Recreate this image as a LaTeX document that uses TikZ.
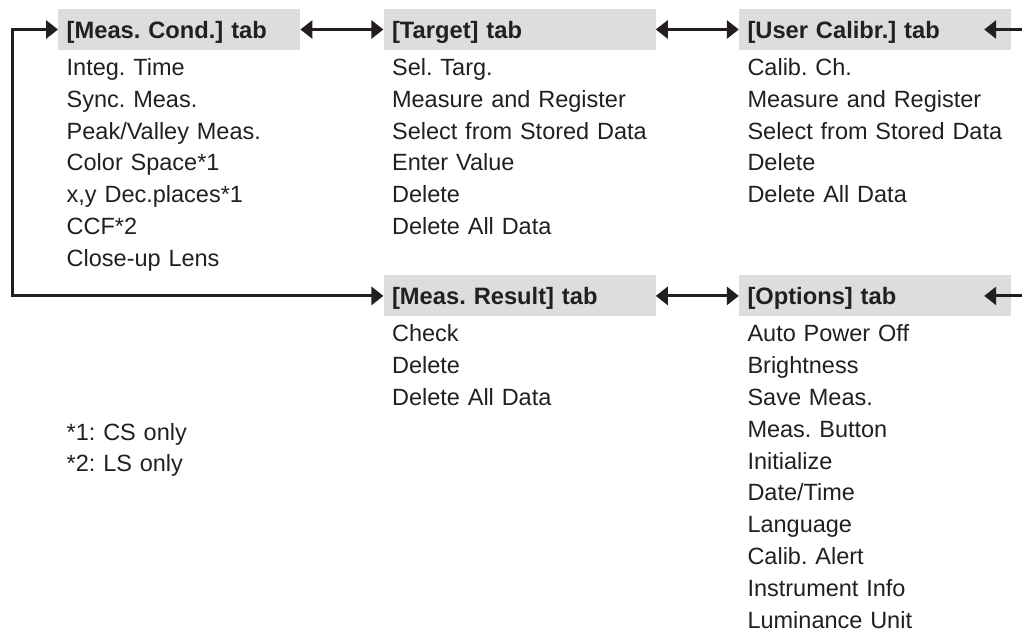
\documentclass[tikz,border=0pt]{standalone}
\usepackage{fontspec}
\setmainfont{Liberation Sans}
\usepackage{xcolor}
\usepackage{tikz}
\usetikzlibrary{positioning, arrows.meta}

\definecolor{tabgrey}{HTML}{DCDDDE}
\definecolor{inkgrey}{HTML}{231F20}
\frenchspacing

\begin{document}
\begin{tikzpicture}[x=1pt, y=-1pt, node distance=0pt]

	% Styles
	\tikzset{
		tab/.style={
			rectangle, fill=tabgrey, text=inkgrey,
			minimum height=41pt, text height=17pt, text depth=0pt,
			inner xsep=8.5pt, inner ysep=0pt, text width=#1, align=left,
			font=\fontsize{23.7}{28}\selectfont\bfseries
		},
		item/.style={
			rectangle, text=inkgrey, inner sep=0pt,
			text height=28pt, text depth=3.4pt, text width=260pt, align=left,
			font=\fontsize{23.5}{28}\selectfont
		},
		arrow/.style={draw=inkgrey, line width=3pt, -{Triangle[length=12pt, width=18pt]}},
		darrow/.style={draw=inkgrey, line width=3pt, {Triangle[length=12pt, width=18pt]}-{Triangle[length=12pt, width=18pt]}}
	}

	\useasboundingbox (0,0) rectangle (1022,630);

	% Tabs
	\node (mc) [tab=225pt, anchor=west] at (58,29.5) {[Meas. Cond.] tab};
	\node (tg) [tab=255pt, right=83pt of mc] {[Target] tab};
	\node (uc) [tab=255pt, right=83pt of tg] {[User Calibr.] tab};
	\node (mr) [tab=255pt, below=225pt of tg] {[Meas. Result] tab};
	\node (op) [tab=255pt, right=83pt of mr] {[Options] tab};

	% Meas. Cond. items
	\node (mc1) [item, below=-3pt of mc.south west, anchor=north west, xshift=8.5pt] {Integ. Time};
	\node (mc2) [item, below=of mc1] {Sync. Meas.};
	\node (mc3) [item, below=of mc2] {Peak/Valley Meas.};
	\node (mc4) [item, below=of mc3] {Color Space*1};
	\node (mc5) [item, below=of mc4] {x,y Dec.places*1};
	\node (mc6) [item, below=of mc5] {CCF*2};
	\node (mc7) [item, below=of mc6] {Close-up Lens};

	% Notes
	\node (note1) [item, below=142pt of mc7] {*1: CS only};
	\node (note2) [item, below=of note1] {*2: LS only};

	% Target items
	\node (tg1) [item, below=-3pt of tg.south west, anchor=north west, xshift=8.5pt] {Sel. Targ.};
	\node (tg2) [item, below=of tg1] {Measure and Register};
	\node (tg3) [item, below=of tg2] {Select from Stored Data};
	\node (tg4) [item, below=of tg3] {Enter Value};
	\node (tg5) [item, below=of tg4] {Delete};
	\node (tg6) [item, below=of tg5] {Delete All Data};

	% User Calibr. items
	\node (uc1) [item, below=-3pt of uc.south west, anchor=north west, xshift=8.5pt] {Calib. Ch.};
	\node (uc2) [item, below=of uc1] {Measure and Register};
	\node (uc3) [item, below=of uc2] {Select from Stored Data};
	\node (uc4) [item, below=of uc3] {Delete};
	\node (uc5) [item, below=of uc4] {Delete All Data};

	% Meas. Result items
	\node (mr1) [item, below=-3pt of mr.south west, anchor=north west, xshift=8.5pt] {Check};
	\node (mr2) [item, below=of mr1] {Delete};
	\node (mr3) [item, below=of mr2] {Delete All Data};

	% Options items
	\node (op1) [item, below=-3pt of op.south west, anchor=north west, xshift=8.5pt] {Auto Power Off};
	\node (op2) [item, below=of op1] {Brightness};
	\node (op3) [item, below=of op2] {Save Meas.};
	\node (op4) [item, below=of op3] {Meas. Button};
	\node (op5) [item, below=of op4] {Initialize};
	\node (op6) [item, below=of op5] {Date/Time};
	\node (op7) [item, below=of op6] {Language};
	\node (op8) [item, below=of op7] {Calib. Alert};
	\node (op9) [item, below=of op8] {Instrument Info};
	\node (op10) [item, below=of op9] {Luminance Unit};

	% Arrows between tabs
	\draw[darrow] (mc.east) -- (tg.west);
	\draw[darrow] (tg.east) -- (uc.west);
	\draw[darrow] (mr.east) -- (op.west);

	% Loop on the left
	\coordinate (loop) at ([xshift=-46pt]mc.west);
	\draw[darrow] (mc.west) -- (loop) |- (mr.west);

	% Arrows coming in from the right
	\coordinate (ucin) at ([xshift=-27pt]uc.east);
	\coordinate (ucend) at ([xshift=14pt]uc.east);
	\draw[arrow] (ucend) -- (ucin);
	\coordinate (opin) at ([xshift=-27pt]op.east);
	\coordinate (opend) at ([xshift=14pt]op.east);
	\draw[arrow] (opend) -- (opin);

\end{tikzpicture}
\end{document}
